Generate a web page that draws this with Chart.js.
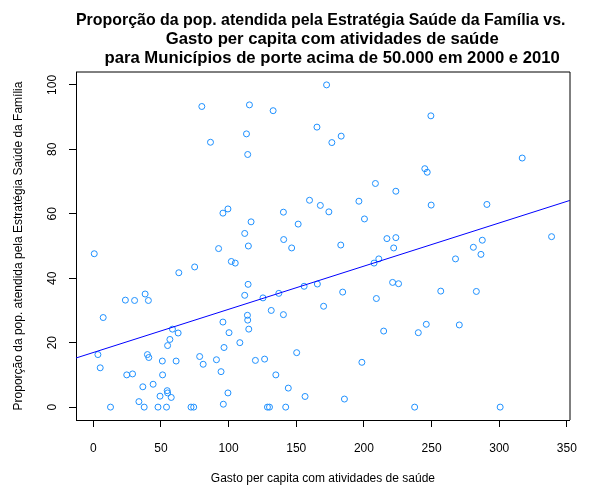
<!DOCTYPE html>
<html>
<head>
<meta charset="utf-8">
<script src="https://cdn.jsdelivr.net/npm/chart.js@4.4.0/dist/chart.umd.min.js"></script>
<style>
  html, body { margin: 0; padding: 0; background: #fff; }
  #wrap { width: 591px; height: 489px; }
</style>
</head>
<body>
<div id="wrap"><canvas id="chart" width="591" height="489"></canvas></div>
<script>
// Gasto per capita com atividades de saúde (x)
const gastoPerCapita = [
  80.2, 86.6, 99.5, 95.8, 92.6, 0.7, 102, 104.9, 74.9, 63.2, 38.3, 23.7, 30.5, 40.7, 7.3, 95.8, 100.3,
  58.5, 62.7, 56.6, 54.9, 96.6, 108.3, 3.4, 40, 41, 78.6, 91, 51, 61.2, 81.2, 5.1, 94.4, 24.7, 29.0,
  51.2, 36.6, 44.2, 54.6, 54.9, 49.3, 57.6, 99.5, 33.7, 96.1, 12.7, 37.6, 47.8, 54.1, 72.2, 74.2,
  172.4, 115.4, 132.9, 165.3, 183.2, 176.3, 113.2, 114.1, 208.5, 223.6, 159.8, 196.3, 167.8, 174.1,
  140.5, 116.6, 151.4, 200.4, 111.9, 140.7, 114.6, 146.6, 182.9, 217, 223.6, 222,
  211, 207.5, 114.4, 155.8, 165.6, 221.2, 225.6, 111.9, 125.4, 137.1, 184.3, 209.2, 131.5, 140.5,
  170.2, 113.9, 114.1, 114.9, 214.6, 150.3, 119.8, 126.6, 198.5, 134.9, 144.1, 156.5, 185.6, 128.7,
  130.2, 142.2,
  249.5, 317, 245, 246.8, 249.7, 290.9, 287.5, 338.7, 280.9, 286.5, 267.7, 256.8, 283.1, 246.1,
  240.2, 270.5, 237.5, 300.7
];
// Proporção da pop. atendida pela ESF (y)
const propESF = [
  93.3, 82.2, 61.5, 60.2, 49.2, 47.6, 45.2, 44.7, 43.5, 41.7, 35.1, 33.2, 33.1, 33.1, 27.8, 26.4, 23.1,
  24.2, 23.0, 21.0, 19.1, 18.5, 20.0, 16.3, 16.3, 15.4, 15.7, 14.7, 14.3, 14.3, 13.3, 12.2, 11.0, 10.0, 10.3,
  10.0, 6.3, 7.1, 5.1, 4.4, 3.4, 3.0, 4.4, 1.7, 0.9, 0, 0, 0, 0, 0, 0,
  100, 93.8, 92.0, 86.9, 84.1, 82.1, 84.8, 78.4, 69.4, 67.0, 64.2, 63.9, 62.6, 60.6,
  60.5, 57.5, 56.8, 58.4, 53.9, 52.0, 50.0, 49.4, 50.3, 52.3, 52.6, 49.4,
  46.0, 44.7, 38.1, 37.5, 38.2, 38.7, 38.3, 34.7, 33.9, 35.3, 35.7, 33.7, 30.0, 28.7,
  31.3, 28.5, 27.0, 24.2, 23.6, 16.9, 14.5, 14.9, 13.9, 10.0, 5.9, 3.3, 2.5, 0,
  0, 0,
  90.4, 77.3, 74.0, 72.9, 62.7, 62.9, 51.8, 52.9, 49.6, 47.4, 46.0, 36.0, 35.9, 25.7,
  23.1, 25.5, 0, 0
];

// reta de regressão (abline)
const fitIntercept = 16.95;
const fitSlope = 0.134;

const xAxisMin = -12.8, xAxisMax = 352.2;
const yAxisMin = -4, yAxisMax = 104;

const titleLines = [
  "Proporção da pop. atendida pela Estratégia Saúde da Família vs. ",
  "    Gasto per capita com atividades de saúde",
  "    para Municípios de porte acima de 50.000 em 2000 e 2010"
];
const xTitle = "Gasto per capita com atividades de saúde";
const yTitle = "Proporção da pop. atendida pela Estratégia Saúde da Família";

const FONT = "'Liberation Sans', Arial, Helvetica, sans-serif";

const points = gastoPerCapita.map((x, i) => ({ x: x, y: propESF[i] }));
const fitLine = [xAxisMin, xAxisMax].map(x => ({ x: x, y: fitIntercept + fitSlope * x }));

// moldura superior e direita (box do R)
const boxPlugin = {
  id: 'box',
  afterDraw(chart) {
    const { ctx, chartArea: a } = chart;
    ctx.save();
    ctx.strokeStyle = '#000';
    ctx.lineWidth = 1;
    ctx.beginPath();
    ctx.moveTo(Math.round(a.left), Math.round(a.top));
    ctx.lineTo(Math.round(a.right), Math.round(a.top));
    ctx.lineTo(Math.round(a.right), Math.round(a.bottom));
    ctx.stroke();
    ctx.restore();
  }
};

new Chart(document.getElementById('chart').getContext('2d'), {
  type: 'scatter',
  data: {
    datasets: [
      {
        type: 'line',
        data: fitLine,
        borderColor: '#0000ff',
        borderWidth: 1,
        pointRadius: 0,
        fill: false,
        order: 0
      },
      {
        data: points,
        pointStyle: 'circle',
        pointRadius: 3,
        pointBorderWidth: 1,
        borderColor: '#1e90ff',
        backgroundColor: 'rgba(0,0,0,0)',
        order: 1
      }
    ]
  },
  options: {
    responsive: false,
    animation: false,
    events: [],
    layout: { padding: { left: 0, right: 17, top: 0, bottom: 0 } },
    scales: {
      x: {
        type: 'linear',
        min: xAxisMin,
        max: xAxisMax,
        afterFit: (scale) => { scale.height = 69; },
        border: { display: true, color: '#000', width: 1 },
        grid: { display: true, drawOnChartArea: false, drawTicks: true, tickLength: 7, color: '#000' },
        ticks: {
          stepSize: 50,
          includeBounds: false,
          maxRotation: 0,
          padding: 14,
          color: '#000',
          font: { family: FONT, size: 12 }
        },
        title: {
          display: true,
          text: xTitle,
          color: '#000',
          font: { family: FONT, size: 12 },
          padding: { top: 0, bottom: 3.4 }
        }
      },
      y: {
        type: 'linear',
        min: yAxisMin,
        max: yAxisMax,
        afterFit: (scale) => { scale.width = 76; },
        border: { display: true, color: '#000', width: 1 },
        grid: { display: true, drawOnChartArea: false, drawTicks: true, tickLength: 7, color: '#000' },
        ticks: {
          stepSize: 20,
          includeBounds: false,
          minRotation: 90,
          maxRotation: 90,
          crossAlign: 'center',
          padding: 6,
          color: '#000',
          font: { family: FONT, size: 12 }
        },
        title: {
          display: true,
          text: yTitle,
          color: '#000',
          font: { family: FONT, size: 12 },
          padding: { top: 11, bottom: 0 }
        }
      }
    },
    plugins: {
      legend: { display: false },
      tooltip: { enabled: false },
      title: {
        display: true,
        text: titleLines,
        fullSize: false,
        color: '#000',
        font: { family: FONT, size: 16.7, weight: 'bold', lineHeight: 1.12 },
        padding: { top: 11.5, bottom: 4.4 }
      }
    }
  },
  plugins: [boxPlugin]
});
</script>
</body>
</html>
